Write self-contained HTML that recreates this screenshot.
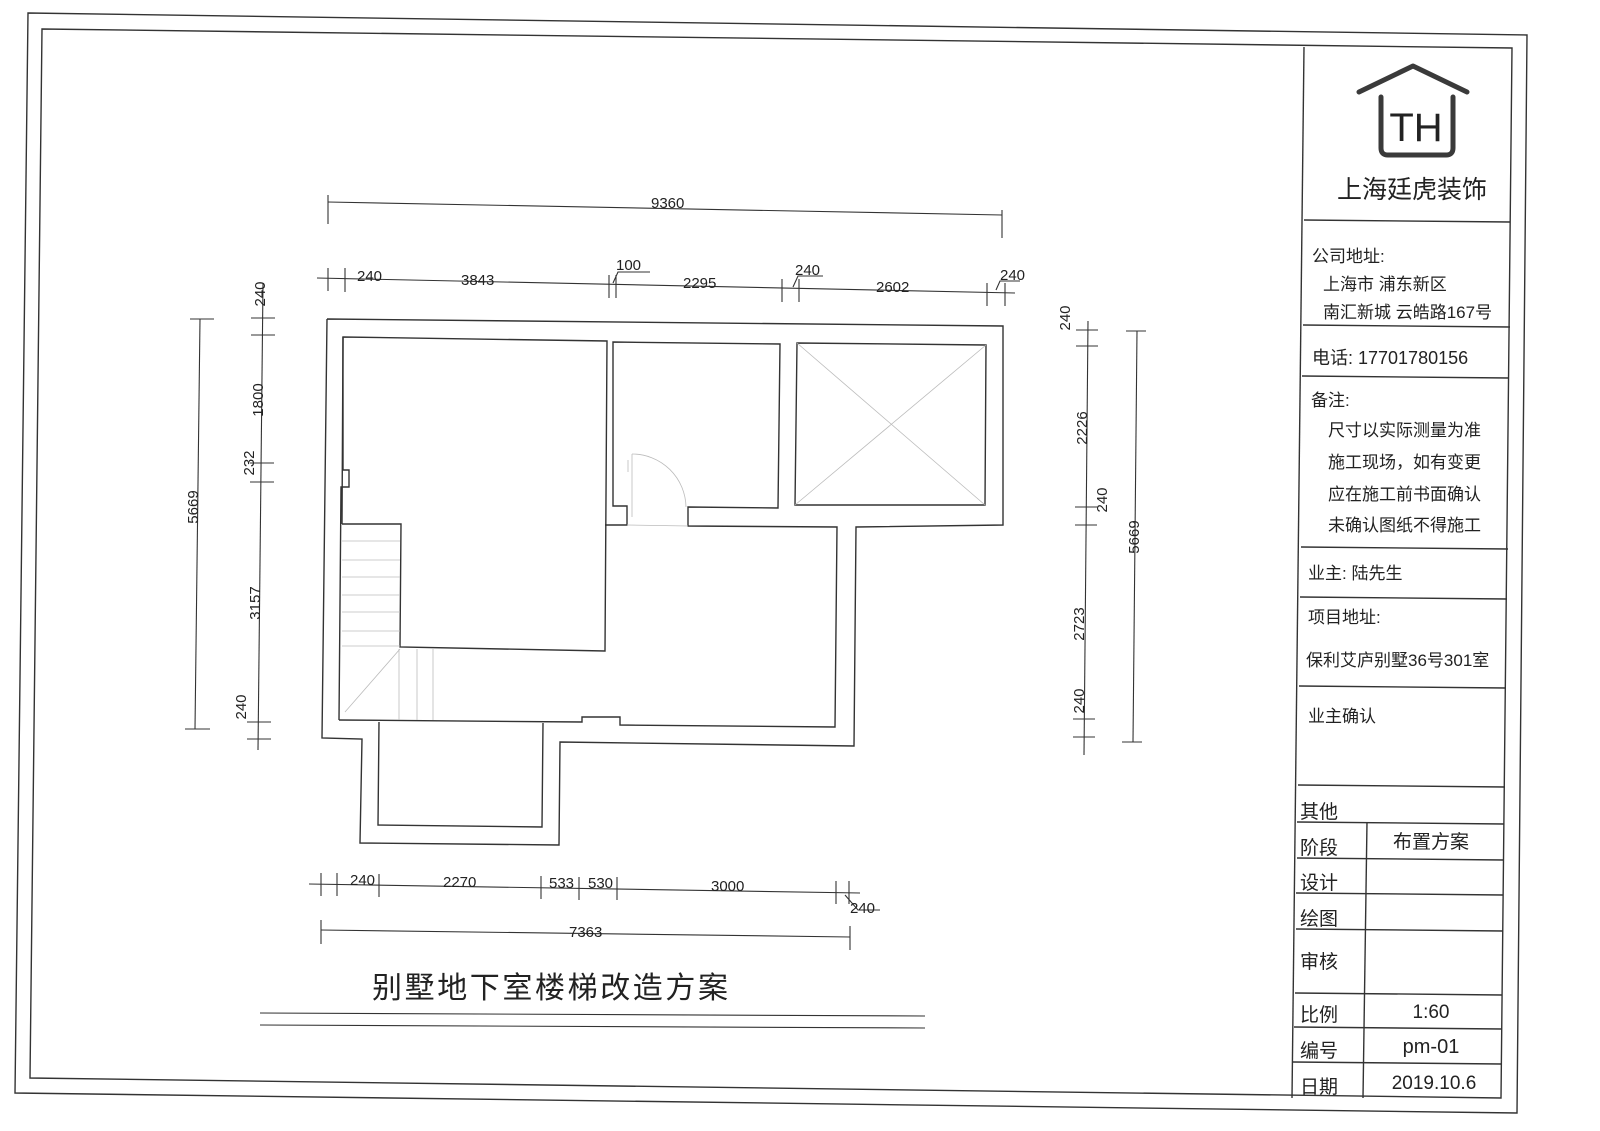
<!DOCTYPE html>
<html><head><meta charset="utf-8"><style>
html,body{margin:0;padding:0;background:#fff;}
svg{display:block}
text{font-family:"Liberation Sans","Noto Sans CJK SC",sans-serif;fill:#222}
</style></head><body>
<svg width="1600" height="1131" viewBox="0 0 1600 1131" xmlns="http://www.w3.org/2000/svg">
<rect width="1600" height="1131" fill="#fff"/>
<g fill="none" stroke="#333" stroke-width="1.4">
<polygon points="28,13 1527,35 1517,1113 15,1093"/>
<polygon points="42,29 1512,48 1501,1098 30,1078"/>
<line x1="1304" y1="47" x2="1292" y2="1098"/>
<line x1="1367" y1="822" x2="1363" y2="1098"/>
<line x1="1304" y1="220" x2="1510" y2="222"/>
<line x1="1303" y1="325" x2="1510" y2="327"/>
<line x1="1302" y1="376" x2="1509" y2="378"/>
<line x1="1301" y1="547" x2="1508" y2="549"/>
<line x1="1300" y1="597" x2="1507" y2="599"/>
<line x1="1299" y1="686" x2="1506" y2="688"/>
<line x1="1298" y1="785" x2="1505" y2="787"/>
<line x1="1297" y1="822" x2="1504" y2="824"/>
<line x1="1297" y1="858" x2="1504" y2="860"/>
<line x1="1296" y1="893" x2="1503" y2="895"/>
<line x1="1296" y1="929" x2="1503" y2="931"/>
<line x1="1295" y1="993" x2="1502" y2="995"/>
<line x1="1294" y1="1027" x2="1502" y2="1029"/>
<line x1="1293" y1="1062" x2="1501" y2="1064"/>
<polyline points="327,319 1003,326 1003,525 856,527 854,746 560,742 559,845 360,843 362,739 322,738 327,319"/>
<polyline points="342,524 343,337 607,341 605,651 400,647 401,524 342,524"/>
<polyline points="343,337 343,470 349,470 349,487 341,487 339,720"/>
<polyline points="605,525 627,525 627,506 613,506 613,342 780,344 778,508 688,507 688,526 837,527 835,727 620,725 620,717 582,717 582,722 339,720"/>
<polygon points="797,343 986,345 985,505 795,505"/>
<polyline points="379,722 378,825 542,827 543,723"/>
</g>
<g stroke="#bbb" stroke-width="0.8" fill="none">
<line x1="797" y1="343" x2="985" y2="505"/><line x1="986" y1="345" x2="795" y2="505"/>
<line x1="342" y1="541" x2="400" y2="541"/><line x1="342" y1="560" x2="400" y2="560"/>
<line x1="342" y1="577" x2="400" y2="577"/><line x1="342" y1="595" x2="400" y2="595"/>
<line x1="342" y1="612" x2="400" y2="612"/><line x1="342" y1="631" x2="400" y2="631"/>
<line x1="342" y1="646" x2="400" y2="646"/>
<line x1="399" y1="649" x2="399" y2="720"/><line x1="417" y1="649" x2="417" y2="720"/><line x1="433" y1="649" x2="433" y2="720"/>
<line x1="400" y1="649" x2="345" y2="712"/>
<line x1="627" y1="525" x2="688" y2="526"/>
<line x1="632" y1="454" x2="632" y2="517"/><line x1="628" y1="460" x2="628" y2="472"/>
<path d="M632,454 A54,54 0 0 1 686,507"/>
</g>
<g stroke="#333" stroke-width="1.1" fill="none">
<line x1="328" y1="202" x2="1002" y2="215"/>
<line x1="328" y1="195" x2="328" y2="224"/><line x1="1002" y1="210" x2="1002" y2="238"/>
<line x1="317" y1="278" x2="1015" y2="293"/>
<line x1="328" y1="268" x2="328" y2="291"/><line x1="345" y1="268" x2="345" y2="292"/>
<line x1="609" y1="275" x2="609" y2="298"/><line x1="616" y1="275" x2="616" y2="298"/>
<line x1="782" y1="279" x2="782" y2="302"/><line x1="799" y1="279" x2="799" y2="302"/>
<line x1="987" y1="283" x2="987" y2="306"/><line x1="1005" y1="283" x2="1005" y2="306"/>
<polyline points="613,283 618,272 650,272"/><polyline points="793,287 798,276 823,276"/><polyline points="996,290 1000,281 1020,281"/>
<line x1="200" y1="319" x2="195" y2="729"/>
<line x1="190" y1="319" x2="214" y2="319"/><line x1="185" y1="729" x2="210" y2="729"/>
<line x1="263" y1="283" x2="258" y2="750"/>
<line x1="251" y1="318" x2="275" y2="318"/><line x1="251" y1="335" x2="275" y2="335"/>
<line x1="250" y1="463" x2="274" y2="463"/><line x1="250" y1="482" x2="274" y2="482"/>
<line x1="247" y1="722" x2="271" y2="722"/><line x1="247" y1="739" x2="271" y2="739"/>
<line x1="1088" y1="321" x2="1084" y2="755"/>
<line x1="1076" y1="330" x2="1098" y2="330"/><line x1="1076" y1="346" x2="1098" y2="346"/>
<line x1="1075" y1="507" x2="1097" y2="507"/><line x1="1075" y1="525" x2="1097" y2="525"/>
<line x1="1073" y1="719" x2="1095" y2="719"/><line x1="1073" y1="737" x2="1095" y2="737"/>
<line x1="1137" y1="331" x2="1133" y2="742"/>
<line x1="1126" y1="331" x2="1146" y2="331"/><line x1="1122" y1="742" x2="1142" y2="742"/>
<line x1="309" y1="884" x2="860" y2="893"/>
<line x1="321" y1="873" x2="321" y2="896"/><line x1="337" y1="873" x2="337" y2="896"/>
<line x1="379" y1="874" x2="379" y2="897"/><line x1="541" y1="876" x2="541" y2="899"/>
<line x1="579" y1="877" x2="579" y2="900"/><line x1="617" y1="877" x2="617" y2="900"/>
<line x1="836" y1="881" x2="836" y2="904"/><line x1="849" y1="881" x2="849" y2="904"/>
<polyline points="845,895 858,910 880,910"/>
<line x1="321" y1="930" x2="850" y2="937"/>
<line x1="321" y1="920" x2="321" y2="944"/><line x1="850" y1="926" x2="850" y2="950"/>
<line x1="260" y1="1013" x2="925" y2="1016"/>
<line x1="260" y1="1025" x2="925" y2="1028"/>
</g>
<g font-size="15">
<text x="651" y="208">9360</text>
<text x="357" y="281">240</text><text x="461" y="285">3843</text>
<text x="616" y="270">100</text><text x="683" y="288">2295</text>
<text x="795" y="275">240</text><text x="876" y="292">2602</text><text x="1000" y="280">240</text>
<text x="350" y="885">240</text><text x="443" y="887">2270</text><text x="549" y="888">533</text>
<text x="588" y="888">530</text><text x="711" y="891">3000</text><text x="850" y="913">240</text>
<text x="569" y="937">7363</text>
<text transform="translate(198,507) rotate(-90)" text-anchor="middle">5669</text>
<text transform="translate(265,294) rotate(-90)" text-anchor="middle">240</text>
<text transform="translate(263,400) rotate(-90)" text-anchor="middle">1800</text>
<text transform="translate(254,463) rotate(-90)" text-anchor="middle">232</text>
<text transform="translate(260,603) rotate(-90)" text-anchor="middle">3157</text>
<text transform="translate(246,707) rotate(-90)" text-anchor="middle">240</text>
<text transform="translate(1070,318) rotate(-90)" text-anchor="middle">240</text>
<text transform="translate(1087,428) rotate(-90)" text-anchor="middle">2226</text>
<text transform="translate(1107,500) rotate(-90)" text-anchor="middle">240</text>
<text transform="translate(1084,624) rotate(-90)" text-anchor="middle">2723</text>
<text transform="translate(1084,701) rotate(-90)" text-anchor="middle">240</text>
<text transform="translate(1139,537) rotate(-90)" text-anchor="middle">5669</text>
</g>
<text x="372" y="998" font-size="30" textLength="356" fill="#333">别墅地下室楼梯改造方案</text>
<g fill="none" stroke="#3a3a3a" stroke-width="5" stroke-linecap="round" stroke-linejoin="round">
<polyline points="1359,92 1413,66 1467,92"/>
<path d="M1381,97 L1381,148 Q1381,155 1388,155 L1446,155 Q1453,155 1453,148 L1453,97"/>
</g>
<text x="1416" y="141" font-size="40" text-anchor="middle" fill="#333">TH</text>
<text x="1412" y="198" font-size="25" text-anchor="middle" fill="#333">上海廷虎装饰</text>
<g font-size="17" fill="#333">
<text x="1312" y="262">公司地址:</text>
<text x="1323" y="290">上海市  浦东新区</text>
<text x="1323" y="318">南汇新城  云皓路167号</text>
<text x="1312" y="364" font-size="18">电话:  17701780156</text>
<text x="1311" y="406">备注:</text>
<text x="1328" y="436">尺寸以实际测量为准</text>
<text x="1328" y="468">施工现场，如有变更</text>
<text x="1328" y="500">应在施工前书面确认</text>
<text x="1328" y="531">未确认图纸不得施工</text>
<text x="1308" y="579">业主:   陆先生</text>
<text x="1308" y="623">项目地址:</text>
<text x="1306" y="666">保利艾庐别墅36号301室</text>
<text x="1308" y="722">业主确认</text>
<text x="1300" y="818" font-size="19">其他</text>
<text x="1300" y="854" font-size="19">阶段</text>
<text x="1300" y="889" font-size="19">设计</text>
<text x="1300" y="925" font-size="19">绘图</text>
<text x="1300" y="968" font-size="19">审核</text>
<text x="1300" y="1021" font-size="19">比例</text>
<text x="1300" y="1057" font-size="19">编号</text>
<text x="1300" y="1093" font-size="19">日期</text>
<text x="1431" y="848" font-size="19" text-anchor="middle">布置方案</text>
<text x="1431" y="1018" font-size="19" text-anchor="middle">1:60</text>
<text x="1431" y="1053" font-size="20" text-anchor="middle">pm-01</text>
<text x="1434" y="1089" font-size="19" text-anchor="middle">2019.10.6</text>
</g>
</svg>
</body></html>
